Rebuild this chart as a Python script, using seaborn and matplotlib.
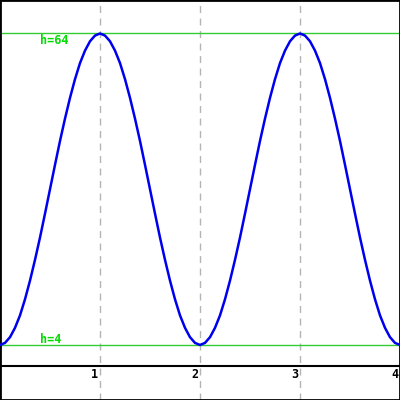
import numpy as np
import seaborn as sns
from matplotlib import pyplot as plt
sns.set_style('white')

# sample positions along x and the curve heights
xs = np.arange(0, 4.001, 0.05)
hs = [4.0, 4.4, 5.5, 7.3, 9.7, 12.8, 16.4, 20.4, 24.7, 29.3,
      34.0, 38.7, 43.3, 47.6, 51.6, 55.2, 58.3, 60.7, 62.5, 63.6,
      64.0, 63.6, 62.5, 60.7, 58.3, 55.2, 51.6, 47.6, 43.3, 38.7,
      34.0, 29.3, 24.7, 20.4, 16.4, 12.8, 9.7, 7.3, 5.5, 4.4,
      4.0, 4.4, 5.5, 7.3, 9.7, 12.8, 16.4, 20.4, 24.7, 29.3,
      34.0, 38.7, 43.3, 47.6, 51.6, 55.2, 58.3, 60.7, 62.5, 63.6,
      64.0, 63.6, 62.5, 60.7, 58.3, 55.2, 51.6, 47.6, 43.3, 38.7,
      34.0, 29.3, 24.7, 20.4, 16.4, 12.8, 9.7, 7.3, 5.5, 4.4,
      4.0]
grid_x = [1, 2, 3]
tick_x = [1, 2, 3, 4]
tick_labels = ['1', '2', '3', '4']
levels = [64, 4]
level_labels = ['h=64', 'h=4']

fig = plt.figure(figsize=(4, 4), dpi=100)
ax = fig.add_axes([0, 0, 1, 1])

for gx in grid_x:
    ax.axvline(gx, color='#b4b4b4', linestyle=(0, (5, 4)), lw=1, zorder=1)
for lv in levels:
    ax.axhline(lv, color='#33cc33', lw=1, zorder=1)
ax.axhline(0, color='black', lw=1.5, zorder=2)

sns.lineplot(x=xs, y=hs, color='#0000f0', lw=1.8, ax=ax, zorder=3)

ax.text(0.4, 62.0, level_labels[0], color='#00dd00', fontsize=8.5,
        fontweight='bold', family='DejaVu Sans Mono', va='baseline')
ax.text(0.4, 4.3, level_labels[1], color='#00dd00', fontsize=8.5,
        fontweight='bold', family='DejaVu Sans Mono', va='baseline')

for tx, tl in zip(tick_x, tick_labels):
    ax.text(tx - 0.02, -0.4, tl, color='black', fontsize=8.5,
            fontweight='bold', family='DejaVu Sans Mono', ha='right', va='top')

ax.set_xlim(0, 4)
ax.set_ylim(-6.6, 70.45)
ax.set_xticks([])
ax.set_yticks([])
for s in ax.spines.values():
    s.set_visible(True)
    s.set_color('black')
    s.set_linewidth(2)

plt.savefig('out.png', dpi=100)
